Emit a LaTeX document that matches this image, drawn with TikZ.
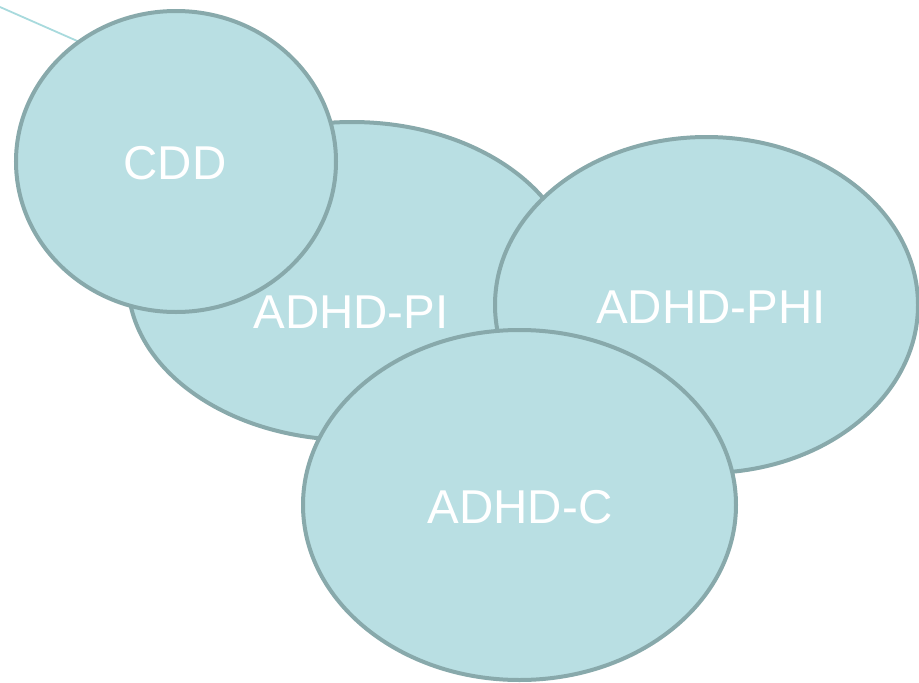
\documentclass[tikz,border=0pt]{standalone}
\usepackage{fontspec}
\setmainfont{Liberation Sans}
\usetikzlibrary{shapes.geometric}
\definecolor{bubfill}{HTML}{B9DFE3}
\definecolor{bubline}{HTML}{88A9AB}
\definecolor{thinline}{HTML}{A8DADD}
\begin{document}
\begin{tikzpicture}[x=1pt,y=-1pt,
  bubble/.style={ellipse,draw=bubline,fill=bubfill,line width=4pt,inner sep=0pt},
  lbl/.style={text=white,font=\fontsize{47.5}{50}\selectfont,inner sep=0pt}]
\useasboundingbox (0,0) rectangle (919,683);
\coordinate (lineStart) at (0,7);
\coordinate (lineEnd) at (150,73);
\draw[thinline,line width=1.8pt] (lineStart) -- (lineEnd);
\node[bubble,minimum width=448pt,minimum height=318pt] (pi) at (352,281) {};
\node[lbl] (piText) at (351,312) {ADHD-PI};
\node[bubble,minimum width=423pt,minimum height=336pt] (phi) at (706.5,305) {};
\node[lbl] (phiText) at (711,307) {ADHD-PHI};
\node[bubble,minimum width=433pt,minimum height=350pt] (c) at (519.5,505) {};
\node[lbl] (cText) at (520,507) {ADHD-C};
\node[bubble,minimum width=320pt,minimum height=301pt] (cdd) at (176,161.5) {};
\node[lbl] (cddText) at (175,163) {CDD};
\end{tikzpicture}
\end{document}
